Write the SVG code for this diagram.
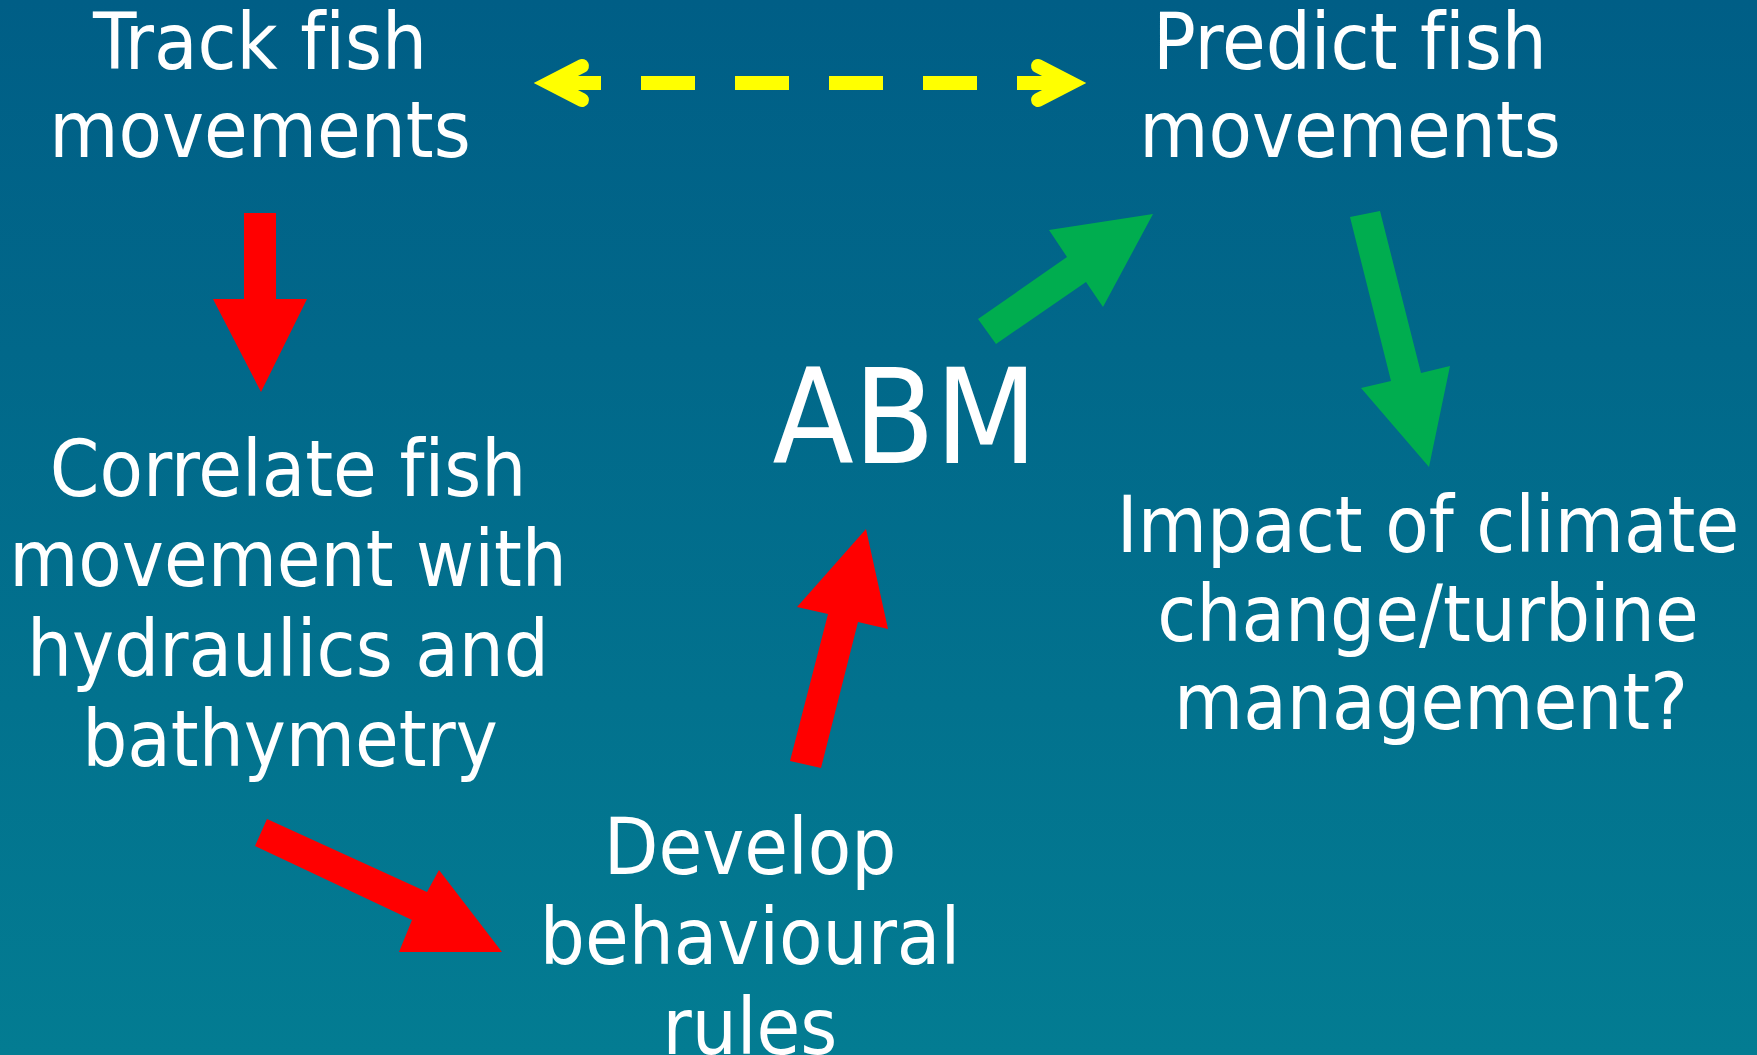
<svg xmlns="http://www.w3.org/2000/svg" width="1757" height="1055" viewBox="0 0 1757 1055">
  <defs>
    <linearGradient id="bg" x1="0" y1="0" x2="0" y2="1">
      <stop offset="0" stop-color="#005e86"/>
      <stop offset="1" stop-color="#037c92"/>
    </linearGradient>
  </defs>
  <style>
    .lbl { font-family: "DejaVu Sans Condensed", "DejaVu Sans", sans-serif; font-size: 79px; fill: #ffffff; text-anchor: middle; font-variant-ligatures: none; }
    .big { font-size: 132px; }
    .red { fill: #ff0000; }
    .green { fill: #00ad4f; }
    .dash { stroke: #ffff00; stroke-width: 14; fill: none; }
    .chev { stroke: #ffff00; stroke-width: 14; fill: none; stroke-linecap: round; stroke-linejoin: miter; }
  </style>

  <rect width="1757" height="1055" fill="url(#bg)"/>

  <g id="track">
    <text class="lbl" x="260" y="69">Track fish</text>
    <text class="lbl" x="260" y="157">movements</text>
  </g>

  <g id="predict">
    <text class="lbl" x="1350" y="69">Predict fish</text>
    <text class="lbl" x="1350" y="157">movements</text>
  </g>

  <g id="abm">
    <text class="lbl big" x="905" y="463">ABM</text>
  </g>

  <g id="correlate">
    <text class="lbl" x="288" y="496">Correlate fish</text>
    <text class="lbl" x="288" y="586">movement with</text>
    <text class="lbl" x="288" y="676">hydraulics and</text>
    <text class="lbl" x="290" y="766">bathymetry</text>
  </g>

  <g id="develop">
    <text class="lbl" x="750" y="874">Develop</text>
    <text class="lbl" x="750" y="964">behavioural</text>
    <text class="lbl" x="750" y="1054">rules</text>
  </g>

  <g id="impact">
    <text class="lbl" x="1428" y="552">Impact of climate</text>
    <text class="lbl" x="1428" y="641">change/turbine</text>
    <text class="lbl" x="1431" y="729">management?</text>
  </g>

  <g id="connectors">
    <!-- two-way dashed link between tracking and prediction -->
    <path class="dash" d="M547,83 H1071" stroke-dasharray="54 40"/>
    <path class="chev" d="M582,66 L549,83 L582,100"/>
    <path class="chev" d="M1038,66 L1071,83 L1038,100"/>
    <!-- block arrows -->
    <polygon class="red" points="244,213 276,213 276,299 307,299 261,392 213,299 244,299"/>
    <polygon class="red" points="267,819 427,892 439,870 502,952 399,952 412,920 255,846"/>
    <polygon class="red" points="790,761 828,614 797,607 866,529 888,629 858,622 821,768"/>
    <polygon class="green" points="978,319 1067,257 1049,230 1153,214 1103,307 1086,282 996,344"/>
    <polygon class="green" points="1350,217 1380,211 1421,373 1450,366 1429,467 1361,388 1391,381"/>
  </g>
</svg>
